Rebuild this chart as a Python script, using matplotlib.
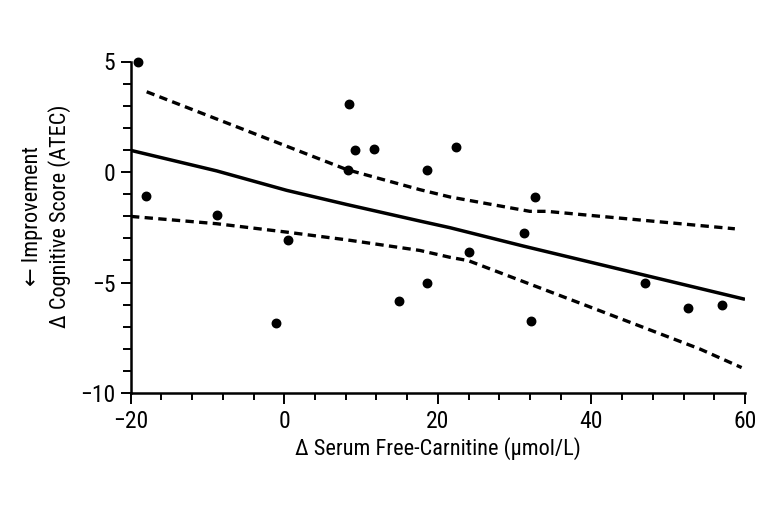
import matplotlib
matplotlib.use("Agg")
import matplotlib.pyplot as plt
from matplotlib.ticker import MultipleLocator

# Scatter data: change in serum free-carnitine vs change in ATEC score
carnitine = [-19.1, -18.05, -8.74, 0.46, -1.12, 8.38, 8.26, 9.2, 11.74, 14.93,
             18.6, 22.33, 18.62, 24.02, 32.6, 31.2, 32.1, 46.98, 52.6, 57.0]
atec = [5.0, -1.07, -1.94, -3.08, -6.82, 3.06, 0.11, 0.98, 1.02, -5.85,
        0.11, 1.13, -5.04, -3.62, -1.13, -2.76, -6.73, -5.04, -6.15, -6.02]

# Regression line
fit_x = [-20, -8.8, 0.31, 8.13, 17.67, 21.58, 31.12, 60]
fit_y = [0.98, 0.05, -0.83, -1.47, -2.22, -2.52, -3.35, -5.76]

# Upper confidence band
upper_x = [-17.92, 8.13, 17.67, 21.58, 31.98, 34.17, 58.68]
upper_y = [3.63, 0.11, -0.80, -1.13, -1.78, -1.78, -2.57]

# Lower confidence band
lower_x = [-19.96, -8.8, 0.31, 8.13, 17.67, 21.58, 23.96, 39.38, 54.13, 59.56]
lower_y = [-2.01, -2.34, -2.72, -3.07, -3.55, -3.86, -4.01, -6.05, -8.01, -8.85]

xticks = [-20, 0, 20, 40, 60]
yticks = [-10, -5, 0, 5]
xlabel = 'Δ Serum Free-Carnitine (µmol/L)'
ylabel = '← Improvement\nΔ Cognitive Score (ATEC)'

plt.rcParams['font.family'] = ['Roboto Condensed', 'DejaVu Sans']

fig = plt.figure(figsize=(7.71, 5.14), dpi=100)
ax = fig.add_axes([130.7 / 771, 1 - 393 / 514, (745 - 130.7) / 771, (393 - 61.5) / 514])

dash = (0, (2.5, 1.6))
ax.plot(fit_x, fit_y, color='black', lw=2.5, solid_capstyle='butt', zorder=2)
ax.plot(upper_x, upper_y, color='black', lw=2.4, linestyle=dash, zorder=2)
ax.plot(lower_x, lower_y, color='black', lw=2.4, linestyle=dash, zorder=2)
ax.plot(carnitine, atec, 'o', color='black', ms=6.1, clip_on=False, zorder=3)

ax.set_xlim(-20, 60)
ax.set_ylim(-10, 5)
ax.set_xticks(xticks)
ax.set_yticks(yticks)
ax.xaxis.set_minor_locator(MultipleLocator(4))
ax.yaxis.set_minor_locator(MultipleLocator(1))

for s in ['top', 'right']:
    ax.spines[s].set_visible(False)
for s in ['left', 'bottom']:
    ax.spines[s].set_linewidth(1.8)

ax.tick_params(axis='x', which='major', length=8, width=1.4, labelsize=17, pad=4)
ax.tick_params(axis='x', which='minor', length=5, width=1.4)
ax.tick_params(axis='y', which='major', length=7.2, width=1.4, labelsize=17, pad=4)
ax.tick_params(axis='y', which='minor', length=5.8, width=1.4)

ax.set_xlabel(xlabel, fontsize=16, labelpad=3)
ax.set_ylabel(ylabel, fontsize=16, multialignment='center', linespacing=1.3)
ax.yaxis.set_label_coords(-0.097, 0.534)

fig.savefig('out.png', dpi=100)
